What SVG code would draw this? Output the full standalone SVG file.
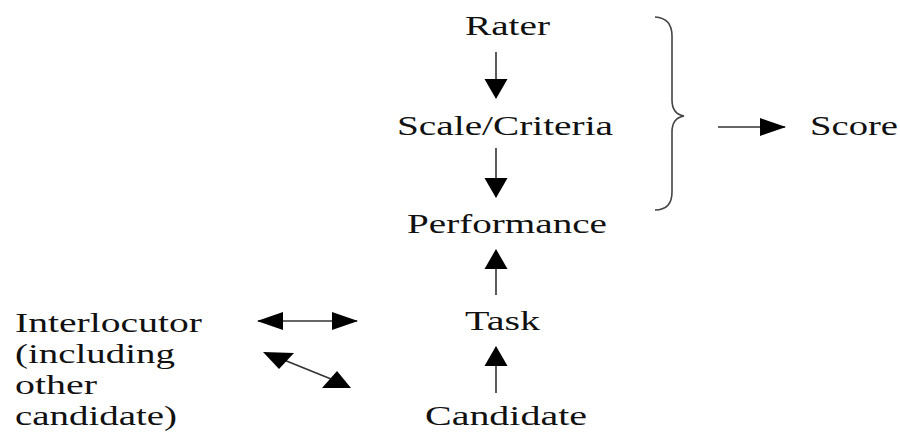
<svg xmlns="http://www.w3.org/2000/svg" width="900" height="432" viewBox="0 0 900 432">
<style>
  text { font-family: "Liberation Serif", "Times New Roman", serif; font-size: 27px; fill: #111; }
  .ln { stroke: #333; stroke-width: 1.6; fill: none; }
  .hd { fill: #000; }
  .brace { stroke: #444; stroke-width: 1.6; fill: none; }
</style>
<defs>
  <marker id="av" viewBox="0 0 20 24" markerWidth="20" markerHeight="24" refX="19" refY="12" orient="auto-start-reverse" markerUnits="userSpaceOnUse">
    <path d="M0,0.5 L20,12 L0,23.5 Z" fill="#000"/>
  </marker>
  <marker id="ah" viewBox="0 0 26 18" markerWidth="26" markerHeight="18" refX="25" refY="9" orient="auto-start-reverse" markerUnits="userSpaceOnUse">
    <path d="M0,0 L26,9 L0,18 Z" fill="#000"/>
  </marker>
</defs>
<rect width="900" height="432" fill="#fff"/>

<g id="rater"><text x="465" y="35" textLength="85" lengthAdjust="spacingAndGlyphs">Rater</text></g>
<g id="scale"><text x="397" y="135" textLength="216" lengthAdjust="spacingAndGlyphs">Scale/Criteria</text></g>
<g id="performance"><text x="407" y="233" textLength="200" lengthAdjust="spacingAndGlyphs">Performance</text></g>
<g id="task"><text x="465" y="330" textLength="75" lengthAdjust="spacingAndGlyphs">Task</text></g>
<g id="candidate"><text x="425" y="425" textLength="162" lengthAdjust="spacingAndGlyphs">Candidate</text></g>
<g id="score"><text x="810" y="135" textLength="88" lengthAdjust="spacingAndGlyphs">Score</text></g>
<g id="interlocutor">
  <text x="15" y="332" textLength="187" lengthAdjust="spacingAndGlyphs">Interlocutor</text>
  <text x="15" y="363" textLength="160" lengthAdjust="spacingAndGlyphs">(including</text>
  <text x="15" y="394" textLength="82" lengthAdjust="spacingAndGlyphs">other</text>
  <text x="15" y="425" textLength="162" lengthAdjust="spacingAndGlyphs">candidate)</text>
</g>
<g id="brace">
  <path class="brace" d="M655,17 Q672,18 672,36 L672,100 Q672,114 684,116 Q672,118 672,132 L672,192 Q672,210 655,210"/>
</g>

<g id="connectors">
  <line class="ln" x1="496" y1="52" x2="496" y2="98" marker-end="url(#av)"/>
  <line class="ln" x1="496" y1="148" x2="496" y2="197" marker-end="url(#av)"/>
  <line class="ln" x1="496" y1="295" x2="496" y2="250" marker-end="url(#av)"/>
  <line class="ln" x1="496" y1="393" x2="496" y2="347" marker-end="url(#av)"/>
  <line class="ln" x1="258" y1="321" x2="357" y2="321" marker-start="url(#ah)" marker-end="url(#ah)"/>
  <line class="ln" x1="718" y1="127" x2="785" y2="127" marker-end="url(#ah)"/>
  <line class="ln" x1="284" y1="360" x2="336" y2="381"/>
  <polygon class="hd" points="263,352 294,353 279,369"/>
  <polygon class="hd" points="322,388 337,371 351,388"/>
</g>
</svg>
